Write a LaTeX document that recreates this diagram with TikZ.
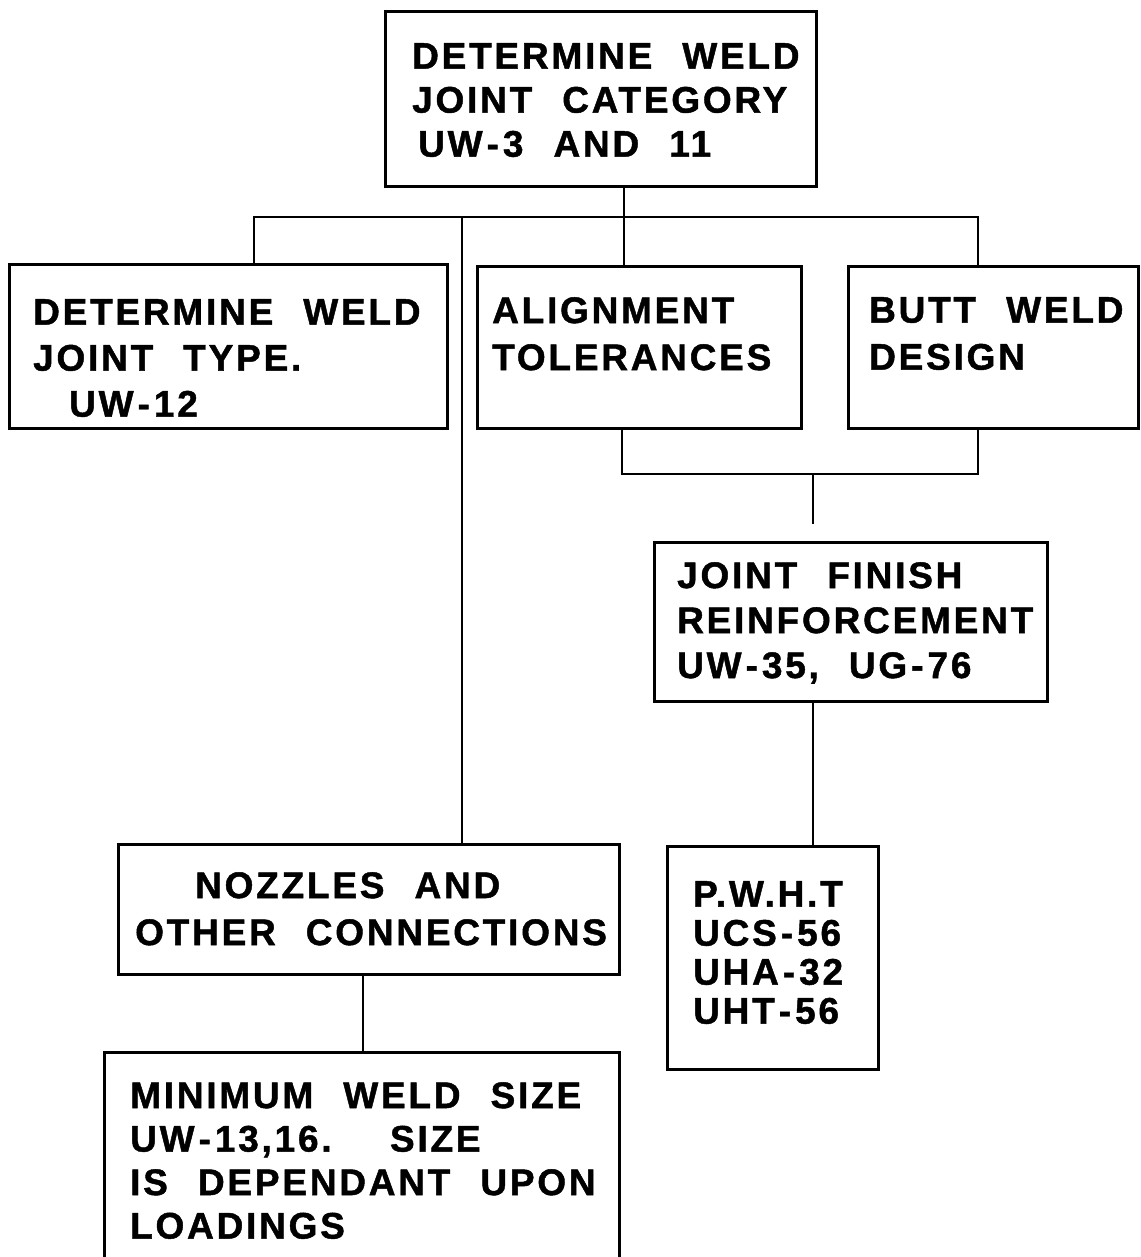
\documentclass[tikz,border=0pt]{standalone}
\usepackage{fontspec}
\newfontfamily\chartfont{Liberation Sans}[LetterSpace=7.5,WordSpace=2.3,BoldFeatures={FakeBold=1.2}]
\newcommand\hy{\kern4pt-\kern4pt}
\tikzset{
  box/.style={draw=black, line width=2.8pt, anchor=north west, inner sep=0pt},
  txt/.style={font=\chartfont\bfseries\fontsize{37}{#1}\selectfont,
    align=left, anchor=north west, inner sep=0pt},
  txt/.default=45,
  link/.style={draw=black, line width=2.8pt}
}

\begin{document}
\begin{tikzpicture}[x=1pt,y=-1pt]
  \useasboundingbox (0,0) rectangle (1140,1257);
  \clip (0,0) rectangle (1140,1257);
  \node[box, minimum width=431pt, minimum height=175pt] (top) at (384,10) {};
  \node[box, minimum width=438pt, minimum height=164pt] (type) at (8,263) {};
  \node[box, minimum width=324pt, minimum height=162pt] (align) at (476,265) {};
  \node[box, minimum width=290pt, minimum height=162pt] (butt) at (847,265) {};
  \node[box, minimum width=393pt, minimum height=159pt] (finish) at (653,541) {};
  \node[box, minimum width=211pt, minimum height=223pt] (pwht) at (666,845) {};
  \node[box, minimum width=501pt, minimum height=130pt] (nozzle) at (117,843) {};
  \node[box, minimum width=515pt, minimum height=240pt] (minbox) at (103,1051) {};

  \node[txt=44] (topT) at (412,43) {DETERMINE WELD\\JOINT CATEGORY\\\hspace*{6pt}UW\hy3 AND 11};
  \node[txt=46] (typeT) at (33,299) {DETERMINE WELD\\JOINT TYPE.\\\hspace*{36pt}UW\hy12};
  \node[txt=47] (alignT) at (492,297) {ALIGNMENT\\TOLERANCES};
  \node[txt=47] (buttT) at (869,297) {BUTT WELD\\DESIGN};
  \node[txt] (finishT) at (677,562) {JOINT FINISH\\REINFORCEMENT\\UW\hy35, UG\hy76};
  \node[txt=39] (pwhtT) at (693,881) {P.W.H.T\\UCS\hy56\\UHA\hy32\\UHT\hy56};
  \node[txt=47] (nozzleT) at (135,872) {\hspace*{60pt}NOZZLES AND\\OTHER CONNECTIONS};
  \node[txt=43.5] (minT) at (130,1082) {MINIMUM WELD SIZE\\UW\hy13,16.\hspace{24pt} SIZE\\IS DEPENDANT UPON\\LOADINGS};

  \coordinate (busW) at (254,217);
  \coordinate (busM) at (462,217);
  \coordinate (busC) at (624,217);
  \coordinate (busE) at (978,217);
  \coordinate (lowW) at (622,474);
  \coordinate (lowC) at (813,474);
  \coordinate (lowE) at (978,474);
  \coordinate (minJ) at (363,1010);

  \draw[link] (top.south -| busC) -- (busC);
  \draw[link] (type.north -| busW) -- (busW) -- (busE) -- (butt.north -| busE);
  \draw[link] (busC) -- (align.north -| busC);
  \draw[link] (busM) -- (nozzle.north -| busM);
  \draw[link] (align.south -| lowW) -- (lowW) -- (lowE) -- (butt.south -| lowE);
  \draw[link, shorten >=17pt] (lowC) -- (finish.north -| lowC);
  \draw[link] (finish.south -| lowC) -- (pwht.north -| lowC);
  \draw[link] (nozzle.south -| minJ) -- (minbox.north -| minJ);
\end{tikzpicture}
\end{document}
